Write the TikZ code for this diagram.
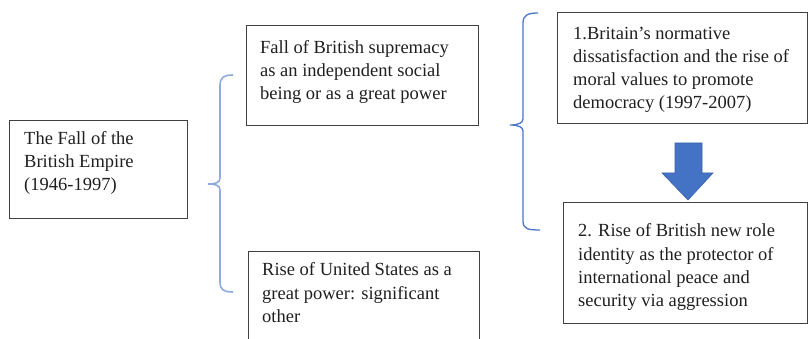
\documentclass[tikz,border=0pt]{standalone}
\usepackage{fontspec}
\setmainfont{Liberation Serif}
\definecolor{boxline}{HTML}{404040}
\definecolor{braceA}{HTML}{8FAADC}
\definecolor{braceB}{HTML}{4A76C8}
\definecolor{arrowblue}{HTML}{4472C4}
\begin{document}
\begin{tikzpicture}[x=1pt,y=-1pt,
  boxst/.style={draw=boxline, line width=1.1pt, inner sep=0pt, anchor=north west},
  txt/.style={inner sep=0pt, anchor=north west, align=left, font=\fontsize{18.5}{23.2}\selectfont, text=black!88},
  braceone/.style={draw=braceA, line width=1.6pt},
  bracetwo/.style={draw=braceB, line width=1.3pt},
  blockarrow/.style={fill=arrowblue, draw=arrowblue!85!black, line width=0.6pt}]
\useasboundingbox (0,0) rectangle (808,339);
\clip (0,0) rectangle (808,339);
% boxes
\node[boxst, minimum width=178pt, minimum height=98pt] (b1) at (9,120) {};
\node[boxst, minimum width=232pt, minimum height=100pt] (b2) at (246,25) {};
\node[boxst, minimum width=231pt, minimum height=110pt] (b3) at (248,251) {};
\node[boxst, minimum width=249.5pt, minimum height=111pt] (b4) at (557,12) {};
\node[boxst, minimum width=243.5pt, minimum height=121pt] (b5) at (563,202) {};
% texts
\node[txt] (t1) at (24,127.8) {\strut The Fall of the\\British Empire\\(1946-1997)};
\node[txt] (t2) at (260,36.8) {\strut Fall of British supremacy\\as an independent social\\being or as a great power};
\node[txt] (t3) at (262,259.5) {\strut Rise of United States as a\\great power: significant\\other};
\node[txt] (t4) at (573,22.8) {\strut 1.Britain’s normative\\dissatisfaction and the rise of\\moral values to promote\\democracy (1997-2007)};
\node[txt] (t5) at (578,220.5) {\strut 2. Rise of British new role\\identity as the protector of\\international peace and\\security via aggression};
% brace 1
\coordinate (br1top) at (233,75);
\coordinate (br1tip) at (208,184);
\coordinate (br1bot) at (233,292);
\draw[braceone] (br1top) .. controls (224,75) and (220,77) .. (220,86) -- (220,178)
  .. controls (220,183) and (215,184) .. (br1tip)
  .. controls (215,184) and (220,185) .. (220,190) -- (220,282)
  .. controls (220,290) and (224,292) .. (br1bot);
% brace 2
\coordinate (br2top) at (538,13);
\coordinate (br2tip) at (510,125);
\coordinate (br2bot) at (540,230);
\draw[bracetwo] (br2top) .. controls (528,13) and (523,15) .. (523,23) -- (523,119)
  .. controls (523,123) and (518,125) .. (br2tip)
  .. controls (518,125) and (523,127) .. (523,131) -- (523,221)
  .. controls (523,229) and (528,230) .. (br2bot);
% block arrow
\draw[blockarrow] (675,143) -- (702,143) -- (702,173) -- (713,173) -- (688,200) -- (662,173) -- (675,173) -- cycle;
\end{tikzpicture}
\end{document}
